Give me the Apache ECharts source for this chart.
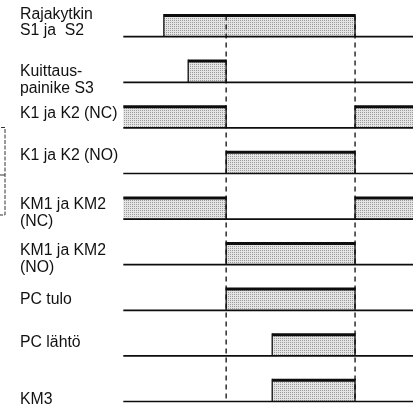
<!DOCTYPE html>
<html>
<head>
<meta charset="utf-8">
<script src="https://cdn.jsdelivr.net/npm/echarts@6/dist/echarts.min.js"></script>
<style>
  html, body { margin: 0; padding: 0; background: #fff; }
  #chart { width: 414px; height: 417px; }
</style>
</head>
<body>
<div id="chart"></div>
<script>
// ---- DATA ----
const signals = [
  'Rajakytkin\nS1 ja  S2',
  'Kuittaus-\npainike S3',
  'K1 ja K2 (NC)',
  'K1 ja K2 (NO)',
  'KM1 ja KM2\n(NC)',
  'KM1 ja KM2\n(NO)',
  'PC tulo',
  'PC lähtö',
  'KM3'
];
// high intervals per signal, in time units (0..100)
const highS1S2 = [[14, 80]];
const highS3 = [[22.4, 35.5]];
const highK_NC = [[0, 35.5], [80, 100]];
const highK_NO = [[35.5, 80]];
const highKM_NC = [[0, 35.5], [80, 100]];
const highKM_NO = [[35.5, 80]];
const highPCin = [[35.5, 80]];
const highPCout = [[51.4, 80]];
const highKM3 = [[51.4, 80]];
const highIntervals = [highS1S2, highS3, highK_NC, highK_NO, highKM_NC, highKM_NO, highPCin, highPCout, highKM3];
const eventTimes = [35.5, 80];
const timeStart = 0;
const timeEnd = 100;

// ---- LAYOUT / STYLE ----
const HIGH = 0.465;            // high level height in row units
const labelOffsets = [-0.7, 11.5, -9.4, -12.5, 7.7, 8, -5, -7.7, 3.5]; // px, text baseline vs row baseline
const INK = '#0d0d0d';

// stipple pattern (dots on a 2px grid)
const pc = document.createElement('canvas');
pc.width = 2; pc.height = 2;
const pctx = pc.getContext('2d');
pctx.fillStyle = '#e4e4e4'; pctx.fillRect(0, 0, 2, 2);
pctx.fillStyle = '#9c9c9c'; pctx.fillRect(0, 0, 1, 1);
const stipple = { image: pc, repeat: 'repeat' };

const pulseData = [];
highIntervals.forEach((list, r) => list.forEach(iv => pulseData.push([iv[0], iv[1], r])));
const rowData = signals.map((s, r) => [timeStart, timeEnd, r]);
const markerData = eventTimes.map(t => [t, 0]);

const chart = echarts.init(document.getElementById('chart'), null, { renderer: 'canvas' });

chart.setOption({
  animation: false,
  backgroundColor: '#fff',
  grid: { left: 123.3, right: 1, top: 13.9, bottom: 6.4 },
  xAxis: { type: 'value', min: timeStart, max: timeEnd, show: false },
  yAxis: { type: 'value', inverse: true, min: -0.5, max: 8.2, show: false },
  graphic: [
    { type: 'polyline', shape: { points: [[1, 127.5], [5, 127.5], [5, 215], [0, 215]] },
      style: { stroke: '#333', lineWidth: 1, fill: null, lineDash: [4, 1.5] } },
    { type: 'line', shape: { x1: 0, y1: 175, x2: 5, y2: 175 },
      style: { stroke: '#333', lineWidth: 1 } }
  ],
  series: [
    {
      type: 'custom', name: 'pulses', data: pulseData, encode: { x: [0, 1], y: 2 },
      renderItem: function (params, api) {
        const s = api.value(0), e = api.value(1), r = api.value(2);
        const p0 = api.coord([s, r]);
        const p1 = api.coord([e, r - HIGH]);
        const children = [
          { type: 'rect', shape: { x: p0[0], y: p1[1], width: p1[0] - p0[0], height: p0[1] - p1[1] },
            style: { fill: stipple } },
          { type: 'line', shape: { x1: p0[0], y1: p1[1], x2: p1[0], y2: p1[1] },
            style: { stroke: INK, lineWidth: 3 } }
        ];
        if (s > timeStart) children.push({ type: 'line', shape: { x1: p0[0], y1: p0[1], x2: p0[0], y2: p1[1] - 1.5 }, style: { stroke: INK, lineWidth: 1.3 } });
        if (e < timeEnd) children.push({ type: 'line', shape: { x1: p1[0], y1: p0[1], x2: p1[0], y2: p1[1] - 1.5 }, style: { stroke: INK, lineWidth: 1.3 } });
        return { type: 'group', children: children };
      }
    },
    {
      type: 'custom', name: 'baselines', data: rowData, encode: { x: [0, 1], y: 2 },
      renderItem: function (params, api) {
        const a = api.coord([api.value(0), api.value(2)]);
        const b = api.coord([api.value(1), api.value(2)]);
        return { type: 'line', shape: { x1: a[0], y1: a[1], x2: b[0], y2: b[1] },
          style: { stroke: INK, lineWidth: 1.7 } };
      }
    },
    {
      type: 'custom', name: 'labels', data: rowData, encode: { x: [0, 1], y: 2 },
      renderItem: function (params, api) {
        const r = api.value(2);
        const p = api.coord([timeStart, r]);
        return { type: 'text', x: 20, y: p[1] + labelOffsets[r] + 3,
          style: { text: signals[r], fill: '#111', font: '15.8px "Liberation Sans", Arial, sans-serif',
            lineHeight: 16.5, verticalAlign: 'bottom', align: 'left' } };
      }
    },
    {
      type: 'custom', name: 'events', data: markerData, encode: { x: 0, y: 1 },
      renderItem: function (params, api) {
        const t = api.value(0);
        const a = api.coord([t, 0 - HIGH]);
        const b = api.coord([t, signals.length - 1]);
        return { type: 'line', shape: { x1: a[0], y1: a[1], x2: b[0], y2: b[1] },
          style: { stroke: INK, lineWidth: 1.3, lineDash: [5, 4] } };
      }
    }
  ]
});
</script>
</body>
</html>
